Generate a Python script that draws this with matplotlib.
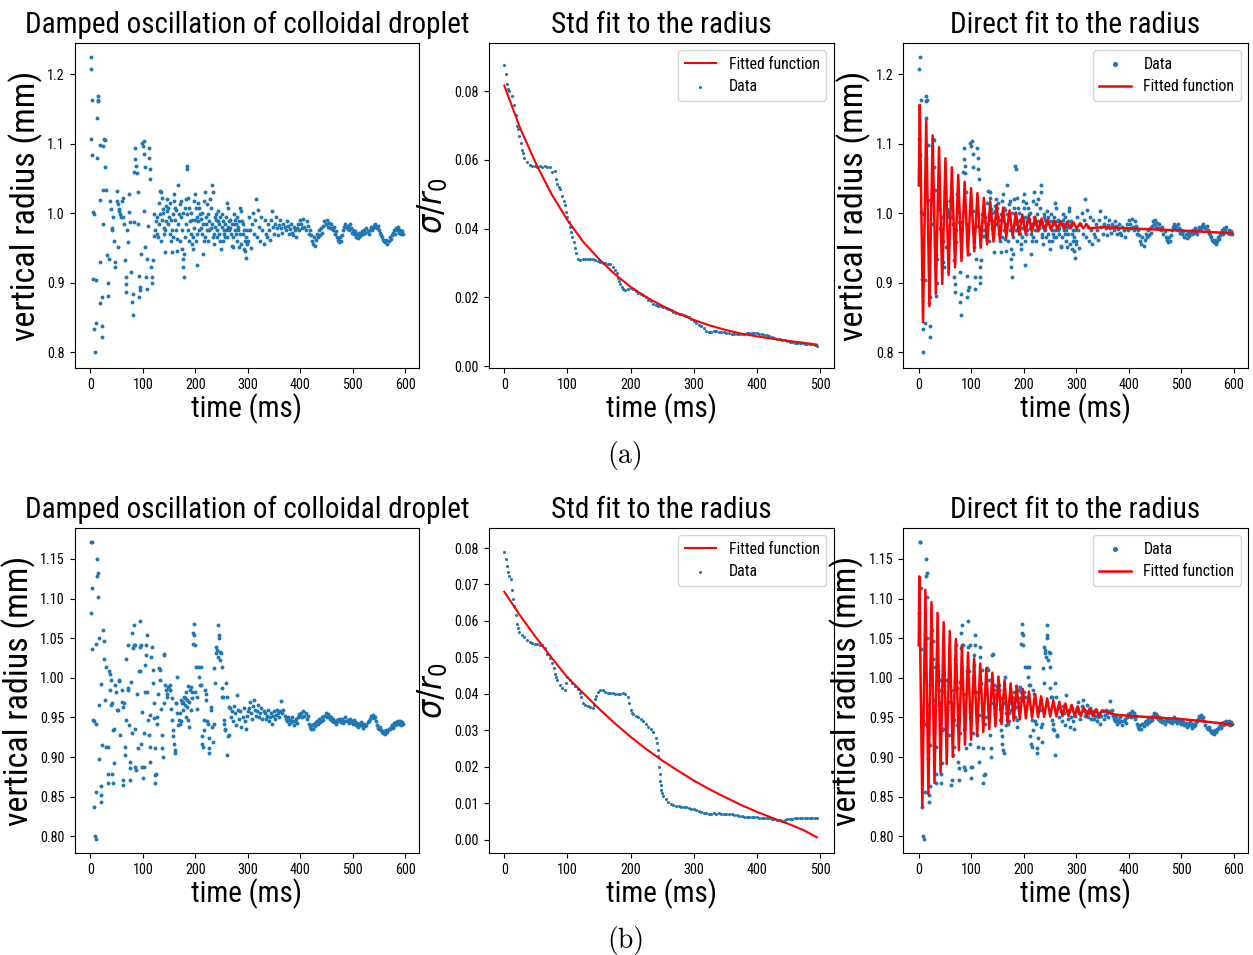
import numpy as np
import matplotlib
matplotlib.use("Agg")
import matplotlib.pyplot as plt
from matplotlib import font_manager as fm

# ------------------------------------------------------------------ data
# Row (a): vertical radius (mm) vs time (ms) -- early scattered part (t, r)
rad_a_early = [
    (1, 1.208), (2, 1.225), (4, 1.163), (1, 1.107), (3, 1.083), (5, 1.002), (8, 0.999), (6, 0.905), (11, 0.903),
    (8, 0.833), (11, 0.842), (9, 0.800), (14, 1.169), (15, 1.163), (14, 1.161), (13, 1.137), (13, 1.080), (18, 1.098),
    (18, 1.019), (19, 0.930), (19, 0.870), (22, 0.879), (22, 0.838), (22, 0.821), (25, 1.097), (27, 1.107), (29, 1.105),
    (29, 1.066), (25, 1.033), (30, 1.033), (25, 0.985), (32, 0.940), (34, 0.900), (33, 0.881), (35, 0.934), (38, 1.018),
    (39, 1.006), (41, 0.979), (42, 0.975), (44, 0.994), (46, 0.960), (47, 0.929), (48, 0.922), (50, 1.032), (51, 1.018),
    (52, 1.013), (52, 0.951), (54, 1.006), (55, 1.003), (57, 0.999), (58, 0.994), (60, 1.018), (62, 1.022), (63, 0.994),
    (65, 0.984), (67, 0.932), (68, 0.908), (69, 0.898), (69, 0.886), (70, 0.975), (71, 0.958), (73, 1.027), (74, 1.001),
    (76, 0.987), (78, 0.915), (79, 0.872), (81, 0.853), (81, 0.884), (83, 0.987), (84, 1.059), (86, 1.094), (86, 1.078),
    (88, 1.068), (89, 1.058), (90, 1.030), (91, 0.984), (92, 0.910), (92, 0.879), (94, 0.889), (95, 0.893), (96, 0.941),
    (98, 1.101), (100, 1.097), (102, 1.104), (103, 1.085), (104, 1.066), (103, 1.003), (105, 0.951), (107, 0.908),
    (108, 0.891), (109, 0.934), (110, 0.982), (111, 1.094), (112, 1.080), (113, 1.063), (114, 1.049), (116, 0.922),
    (117, 0.900), (117, 0.908), (119, 0.932), (121, 0.999), (122, 0.967), (124, 0.975), (125, 0.989), (127, 0.994),
    (128, 0.970), (129, 0.965), (130, 1.015), (132, 1.032), (133, 0.999), (135, 1.030), (136, 1.022), (138, 1.006),
    (140, 0.979), (141, 0.970), (143, 0.944), (144, 0.989), (146, 1.003), (147, 1.020), (149, 1.008), (150, 0.994),
    (152, 0.970), (154, 0.960), (156, 0.944), (157, 0.999), (159, 1.018), (160, 1.027), (162, 1.008), (163, 0.975),
    (165, 0.963), (166, 0.946), (168, 1.040), (169, 0.999), (171, 1.013), (173, 1.018), (175, 0.948), (176, 0.934),
    (176, 0.922), (178, 0.908), (179, 0.941), (181, 1.008), (182, 1.020), (184, 0.999), (184, 1.068), (185, 1.063),
    (187, 1.022), (189, 1.008), (190, 0.989), (192, 0.970), (194, 0.956), (195, 0.948), (197, 0.979), (198, 1.018),
    (200, 1.027), (201, 1.008), (203, 0.925), (203, 0.994), (204, 0.970), (206, 0.989), (208, 1.008), (209, 0.999),
    (211, 0.979), (213, 0.970), (214, 0.941), (216, 0.960), (217, 1.018), (219, 1.030), (220, 0.994), (222, 0.975),
    (223, 1.013), (225, 0.999), (227, 0.989), (229, 0.979), (230, 1.008), (232, 1.040), (233, 1.030), (235, 0.970),
    (236, 0.956), (238, 0.994), (239, 0.999), (241, 0.975), (243, 0.989), (244, 1.003), (246, 0.970), (248, 0.960),
    (249, 0.948), (251, 0.999), (252, 0.989), (254, 0.975), (255, 0.970), (257, 0.965), (258, 0.994), (260, 1.015),
    (262, 1.008), (264, 0.989), (265, 0.975), (267, 0.979), (268, 0.970), (270, 0.953), (271, 0.951), (273, 0.984),
    (274, 0.999), (276, 0.975), (278, 0.970), (279, 0.994), (281, 0.975), (283, 0.951), (284, 0.989), (286, 1.008),
    (287, 1.003), (289, 0.989), (291, 0.970), (292, 0.948), (294, 0.960), (295, 0.946), (297, 0.935), (298, 0.975),
    (131, 0.985), (134, 0.960), (137, 0.990), (139, 1.000), (142, 0.975), (145, 1.010), (148, 0.985), (151, 1.015),
    (153, 0.990), (155, 0.975), (158, 0.965), (161, 0.990), (164, 1.005), (167, 0.985), (170, 0.960), (172, 0.995),
    (174, 0.975), (177, 1.000), (180, 0.965), (183, 0.985), (186, 0.975), (188, 0.960), (191, 1.000), (193, 0.990),
    (196, 0.965), (199, 0.990), (202, 0.960), (205, 1.015), (207, 0.975), (210, 0.992), (212, 1.000), (215, 0.985),
    (218, 0.965), (221, 0.985), (224, 0.960), (226, 0.975), (228, 1.020), (231, 0.985), (234, 0.965), (237, 0.980),
    (240, 0.990), (242, 0.965), (245, 0.985), (247, 0.995), (250, 0.980), (253, 0.960), (256, 0.985), (259, 0.975),
    (261, 0.965), (263, 0.980), (266, 0.990), (269, 0.985), (272, 0.965), (275, 0.990), (277, 0.985), (280, 0.960),
    (282, 0.980), (285, 0.970), (288, 0.955), (290, 0.985), (293, 0.975), (296, 0.965), (299, 0.955)]
# Row (a): late part, one sample every 2 ms from 300 ms
rad_a_late_t = np.arange(300, 597, 2)
rad_a_late_r = [
    0.960, 0.995, 0.975, 0.950, 0.985, 1.000, 0.970, 0.990, 1.021, 0.965, 1.005, 0.980, 0.960, 0.995, 0.975, 0.955,
    0.990, 0.970, 0.965, 0.985, 0.975, 0.962, 0.990, 1.003, 0.980, 0.970, 0.985, 0.995, 0.978, 0.968, 0.983,
    0.990, 0.978, 0.972, 0.985, 0.980, 0.975, 0.988, 0.982, 0.970, 0.977, 0.985, 0.972, 0.968, 0.980, 0.975, 0.965,
    0.978, 0.984, 0.975, 0.990,
    0.985, 0.978, 0.992, 0.980, 0.975, 0.988, 0.982, 0.970, 0.976, 0.968,
    0.960, 0.955, 0.965, 0.952, 0.962,
    0.970, 0.965, 0.975, 0.968, 0.978, 0.972, 0.982,
    0.988, 0.985, 0.990, 0.980, 0.986, 0.978, 0.984,
    0.978, 0.975, 0.980, 0.970, 0.974, 0.965,
    0.962, 0.958, 0.965, 0.960, 0.968,
    0.975, 0.980, 0.985, 0.978, 0.982, 0.976, 0.984, 0.978,
    0.972, 0.976, 0.970, 0.974,
    0.966, 0.970, 0.964, 0.972, 0.967, 0.970,
    0.974, 0.970, 0.976, 0.972, 0.978, 0.974, 0.970, 0.976, 0.980, 0.975, 0.978, 0.982,
    0.984, 0.980, 0.978, 0.982, 0.975, 0.972,
    0.968, 0.965, 0.962, 0.960, 0.958, 0.962, 0.956, 0.960, 0.965, 0.963,
    0.968, 0.972, 0.975, 0.970, 0.978, 0.975, 0.980, 0.972, 0.976, 0.970, 0.974, 0.970]

# Row (a): std / r0 data, one sample every 4 ms plus extra samples on steep parts
std_a_t = np.arange(0, 497, 4)
std_a_v = [
    0.0875, 0.0820, 0.0800, 0.0785, 0.0760, 0.0700, 0.0670, 0.0630, 0.0605, 0.0595,
    0.0585, 0.0582, 0.0581, 0.0580, 0.0581, 0.0580, 0.0581, 0.0580, 0.0578, 0.0566,
    0.0568, 0.0530, 0.0515, 0.0495, 0.0470, 0.0435, 0.0405, 0.0375, 0.0345, 0.0312,
    0.0310, 0.0311, 0.0312, 0.0312, 0.0313, 0.0312, 0.0310, 0.0306, 0.0302, 0.0300,
    0.0299, 0.0298, 0.0296, 0.0290, 0.0280, 0.0258, 0.0238, 0.0225, 0.0222, 0.0226,
    0.0228, 0.0224, 0.0218, 0.0214, 0.0210, 0.0206, 0.0200, 0.0194, 0.0189, 0.0182,
    0.0178, 0.0176, 0.0174, 0.0173, 0.0170, 0.0167, 0.0163, 0.0159, 0.0156, 0.0153,
    0.0151, 0.0149, 0.0147, 0.0143, 0.0137, 0.0131, 0.0126, 0.0121, 0.0116, 0.0110,
    0.0104, 0.0099, 0.0101, 0.0102, 0.0102, 0.0101, 0.0100, 0.0099, 0.0098, 0.0096,
    0.0094, 0.0093, 0.0093, 0.0094, 0.0095, 0.0095, 0.0096, 0.0096, 0.0096, 0.0097,
    0.0096, 0.0095, 0.0093, 0.0091, 0.0090, 0.0088, 0.0085, 0.0082, 0.0079, 0.0078,
    0.0077, 0.0076, 0.0074, 0.0072, 0.0070, 0.0068, 0.0068, 0.0068, 0.0067, 0.0066,
    0.0065, 0.0064, 0.0064, 0.0062, 0.0060]
std_a_extra_t = [2, 6, 18, 22, 26, 30, 82, 86, 94, 98, 102, 106, 110, 114, 178, 182, 186]
std_a_extra_v = [0.0850, 0.0805, 0.0730, 0.0690, 0.0650, 0.0620, 0.0545, 0.0520, 0.0480, 0.0450,
                 0.0420, 0.0390, 0.0360, 0.0330, 0.0270, 0.0248, 0.0230]

# Row (a): fitted functions
fit_std_a_t = [0, 25, 50, 75, 100, 125, 150, 175, 200, 225, 250, 275, 300, 325, 350, 375, 400, 425, 450, 475, 495]
fit_std_a_v = [0.0816, 0.0693, 0.0590, 0.0500, 0.0425, 0.0362, 0.0312, 0.0268, 0.0231, 0.0201, 0.0176,
               0.0154, 0.0135, 0.0119, 0.0106, 0.0095, 0.0087, 0.0080, 0.0074, 0.0068, 0.0063]
fit_dir_a_t = [0, 2.0, 8.1, 14.2, 20.3, 26.4, 32.5, 38.6, 44.7, 50.8, 56.9, 63.0, 69.1, 75.2, 81.3, 87.4, 93.5,
               99.6, 105.7, 111.8, 117.9, 124.0, 130.1, 136.2, 142.3, 148.4, 154.5, 160.6, 166.7, 172.8, 178.9,
               185.0, 191.1, 197.2, 203.3, 209.4, 215.5, 221.6, 227.7, 233.8, 239.9, 246.0, 252.1, 258.2, 264.3,
               270.4, 276.5, 282.6, 288.7, 294.8, 300.9, 307.0, 313.1, 319.2, 325.3, 350, 400, 450, 500, 550, 597]
fit_dir_a_r = [1.040, 1.156, 0.843, 1.133, 0.866, 1.112, 0.884, 1.095, 0.898, 1.079, 0.911, 1.066, 0.922, 1.055,
               0.931, 1.045, 0.939, 1.036, 0.945, 1.029, 0.950, 1.022, 0.955, 1.017, 0.959, 1.012, 0.962, 1.008,
               0.965, 1.004, 0.967, 1.001, 0.969, 0.998, 0.971, 0.996, 0.973, 0.994, 0.974, 0.992, 0.975, 0.991,
               0.976, 0.9895, 0.9767, 0.9883, 0.9774, 0.9873, 0.9778, 0.9864, 0.9781, 0.9853, 0.9782, 0.9843,
               0.9781, 0.980, 0.978, 0.9765, 0.975, 0.973, 0.971]

# Row (b): vertical radius (mm) -- early scattered part (t, r)
rad_b_early = [
    (2, 1.171), (3, 1.171), (4, 1.113), (1, 1.082), (4, 1.036), (6, 0.947), (7, 0.837), (9, 0.800), (10, 0.797),
    (8, 0.945), (13, 1.150), (13, 1.128), (15, 1.132), (15, 1.102), (11, 1.043), (11, 0.942), (11, 0.856), (17, 0.897),
    (17, 0.966), (16, 1.050), (21, 0.992), (22, 0.915), (21, 0.863), (20, 0.852), (20, 0.843), (25, 1.060), (27, 1.047),
    (27, 1.024), (30, 1.014), (29, 0.972), (30, 0.913), (33, 0.913), (33, 0.879), (33, 0.867), (36, 1.008), (37, 1.005),
    (38, 0.984), (40, 0.997), (41, 0.968), (39, 0.966), (42, 0.879), (43, 0.867), (45, 0.892), (44, 0.934), (46, 0.936),
    (48, 0.991), (49, 0.982), (51, 0.960), (53, 0.959), (54, 0.997), (55, 0.996), (57, 0.928), (60, 0.970), (62, 0.865),
    (63, 0.871), (61, 0.984), (63, 0.963), (65, 0.968), (66, 0.903), (67, 0.913), (68, 0.947), (69, 1.024), (71, 1.041),
    (71, 0.984), (72, 0.987), (73, 0.941), (75, 0.894), (76, 0.886), (76, 0.871), (78, 0.995), (79, 0.930), (80, 1.056),
    (81, 1.037), (83, 1.066), (83, 1.041), (85, 1.041), (86, 0.936), (86, 0.888), (88, 0.884), (89, 0.980), (90, 0.911),
    (92, 1.008), (94, 1.072), (94, 1.039), (95, 1.008), (97, 1.041), (97, 0.917), (98, 0.957), (99, 0.888), (100, 0.873),
    (102, 0.888), (103, 0.930), (104, 0.982), (105, 1.016), (106, 1.029), (107, 1.041), (108, 1.054), (109, 0.982),
    (110, 0.947), (111, 0.928), (113, 0.913), (114, 0.953), (114, 0.894), (116, 1.026), (117, 1.039), (119, 0.994),
    (120, 1.010), (121, 0.968), (122, 0.949), (123, 0.911), (123, 0.867), (124, 0.877), (126, 0.879), (127, 0.942),
    (128, 0.951), (129, 0.980), (130, 1.012), (132, 1.010), (133, 0.997), (134, 0.961), (136, 0.928), (137, 0.911),
    (138, 0.900), (140, 1.029), (141, 1.030), (141, 0.968), (143, 0.991), (144, 0.984), (146, 0.976), (147, 0.980),
    (149, 0.989), (151, 0.984), (152, 0.991), (154, 0.961), (155, 0.947), (157, 0.934), (158, 0.926), (159, 0.917),
    (161, 0.909), (162, 0.905), (163, 0.968), (164, 0.968), (165, 1.001), (167, 0.940), (169, 0.947), (170, 0.942),
    (171, 0.955), (173, 0.972), (175, 0.968), (176, 0.959), (178, 0.976), (180, 0.966), (181, 0.974), (182, 0.982),
    (184, 0.972), (185, 0.963), (187, 0.947), (188, 0.938), (190, 0.984), (192, 0.989), (194, 0.982), (196, 1.056),
    (197, 1.068), (198, 1.054), (195, 1.043), (199, 1.041), (200, 0.982), (202, 1.014), (203, 0.976), (204, 0.961),
    (206, 1.014), (208, 1.001), (209, 0.991), (210, 1.014), (211, 0.991), (212, 0.926), (213, 0.917), (215, 0.913),
    (216, 0.947), (217, 0.934), (218, 0.984), (220, 0.980), (221, 0.972), (222, 0.945), (224, 0.942), (226, 0.911),
    (226, 0.905), (227, 0.924), (229, 0.963), (230, 0.959), (232, 0.938), (234, 0.919), (235, 0.942), (236, 1.012),
    (238, 0.993), (239, 1.039), (240, 1.031), (241, 1.035), (243, 1.026), (244, 1.066), (245, 1.054), (245, 1.050),
    (247, 1.022), (248, 1.033), (249, 1.031), (250, 1.014), (250, 0.987), (251, 0.976), (253, 0.976), (254, 0.947),
    (255, 0.942), (256, 0.936), (257, 0.934), (259, 0.993), (260, 0.903), (261, 0.976), (263, 0.926), (264, 0.928),
    (265, 0.963), (152, 0.985), (156, 0.975), (166, 0.955), (172, 0.945), (177, 0.970), (183, 0.950), (186, 0.990),
    (189, 0.970), (191, 0.960), (193, 0.975)]
rad_b_late_t = np.arange(266, 597, 2)
rad_b_late_r = [
    0.962, 0.950, 0.958, 0.945, 0.965, 0.955, 0.940, 0.978, 0.960, 0.948, 0.958, 0.938, 0.950, 0.962, 0.945, 0.935,
    0.952, 0.958,
    0.962, 0.970, 0.955, 0.948, 0.965, 0.972, 0.960, 0.952, 0.958, 0.966, 0.950, 0.955, 0.962, 0.948, 0.958,
    0.955, 0.948, 0.952, 0.960, 0.945, 0.950, 0.956, 0.942, 0.952, 0.958, 0.948, 0.953, 0.960, 0.955, 0.950,
    0.958, 0.971, 0.955, 0.960, 0.952,
    0.948, 0.945, 0.950, 0.942, 0.947, 0.944, 0.950, 0.946, 0.940, 0.945, 0.948, 0.943, 0.950, 0.954, 0.952,
    0.956, 0.950, 0.958, 0.952, 0.955, 0.948, 0.952,
    0.942, 0.938, 0.935, 0.940, 0.936, 0.942, 0.939, 0.944,
    0.945, 0.942, 0.948, 0.944, 0.946, 0.950, 0.947,
    0.952, 0.956, 0.950, 0.954, 0.952, 0.948, 0.950, 0.946,
    0.948, 0.944, 0.946, 0.942, 0.947, 0.945, 0.948,
    0.946, 0.944, 0.948, 0.943, 0.946, 0.950, 0.945, 0.947, 0.943, 0.948, 0.944, 0.946, 0.942, 0.947, 0.944,
    0.940, 0.943, 0.938, 0.942, 0.940, 0.944,
    0.940, 0.937, 0.942, 0.939, 0.941, 0.944, 0.946,
    0.948, 0.952, 0.950, 0.953, 0.949, 0.951, 0.946, 0.940,
    0.937, 0.935, 0.938, 0.934, 0.932,
    0.930, 0.933, 0.929, 0.934, 0.932, 0.936, 0.935,
    0.938, 0.941, 0.937, 0.943, 0.940, 0.944, 0.942,
    0.945, 0.942, 0.946, 0.940, 0.944, 0.942]

std_b_t = np.arange(0, 497, 4)
std_b_v = [
    0.0790, 0.0750, 0.0722, 0.0685, 0.0640, 0.0592, 0.0570, 0.0562, 0.0555, 0.0548,
    0.0542, 0.0540, 0.0537, 0.0536, 0.0535, 0.0535, 0.0525, 0.0510, 0.0497, 0.0485,
    0.0455, 0.0438, 0.0425, 0.0415, 0.0410, 0.0445, 0.0438, 0.0430, 0.0422, 0.0412,
    0.0402, 0.0375, 0.0368, 0.0366, 0.0365, 0.0362, 0.0385, 0.0405, 0.0410, 0.0410,
    0.0405, 0.0403, 0.0402, 0.0401, 0.0400, 0.0400, 0.0400, 0.0401, 0.0400, 0.0390,
    0.0355, 0.0345, 0.0340, 0.0336, 0.0332, 0.0325, 0.0318, 0.0310, 0.0302, 0.0295,
    0.0280, 0.0230, 0.0150, 0.0120, 0.0110, 0.0102, 0.0098, 0.0095, 0.0093, 0.0091,
    0.0090, 0.0089, 0.0088, 0.0087, 0.0085, 0.0083, 0.0081, 0.0079, 0.0076, 0.0074,
    0.0072, 0.0071, 0.0071, 0.0072, 0.0071, 0.0072, 0.0071, 0.0071, 0.0071, 0.0070,
    0.0070, 0.0068, 0.0066, 0.0065, 0.0064, 0.0063, 0.0062, 0.0062, 0.0061, 0.0061,
    0.0061, 0.0060, 0.0060, 0.0060, 0.0059, 0.0058, 0.0057, 0.0055, 0.0054, 0.0053,
    0.0052, 0.0053, 0.0055, 0.0056, 0.0057, 0.0058, 0.0059, 0.0060, 0.0060, 0.0060,
    0.0060, 0.0060, 0.0060, 0.0060, 0.0060]
std_b_extra_t = [2, 6, 10, 14, 18, 22, 78, 82, 98, 122, 142, 146, 198, 202, 242, 243, 245, 246, 247, 249, 250]
std_b_extra_v = [0.0770, 0.0735, 0.0715, 0.0660, 0.0615, 0.0580, 0.0470, 0.0445, 0.0430, 0.0390, 0.0370,
                 0.0395, 0.0375, 0.0348, 0.0265, 0.0245, 0.0200, 0.0180, 0.0160, 0.0135, 0.0128]

fit_std_b_t = [0, 25, 50, 75, 100, 125, 150, 175, 200, 225, 250, 275, 300, 325, 350, 375, 400, 425, 450, 475, 495]
fit_std_b_v = [0.0680, 0.0615, 0.0555, 0.0499, 0.0445, 0.0402, 0.0359, 0.0319, 0.0282, 0.0248, 0.0217,
               0.0189, 0.0162, 0.0138, 0.0116, 0.0095, 0.0076, 0.0059, 0.0043, 0.0025, 0.0006]
fit_dir_b_t = [0, 1.0, 6.8, 12.6, 18.4, 24.2, 30.0, 35.8, 41.6, 47.4, 53.2, 59.0, 64.8, 70.6, 76.4, 82.2, 88.0,
               93.8, 99.6, 105.4, 111.2, 117.0, 122.8, 128.6, 134.4, 140.2, 146.0, 151.8, 157.6, 163.4, 169.2,
               175.0, 180.8, 186.6, 192.4, 198.2, 204.0, 209.8, 215.6, 221.4, 227.2, 233.0, 238.8, 244.6, 250.4,
               256.2, 262.0, 267.8, 273.6, 279.4, 285.2, 291.0, 296.8, 302.6, 308.4, 314.2, 320.0, 325.8, 331.6,
               337.4, 343.2, 349.0, 375, 400, 450, 500, 550, 597]
fit_dir_b_r = [1.041, 1.128, 0.837, 1.111, 0.853, 1.0955, 0.8674, 1.082, 0.8802, 1.0701, 0.8912, 1.059, 0.9004,
               1.0489, 0.9086, 1.0399, 0.9157, 1.0319, 0.9219, 1.0246, 0.9271, 1.0179, 0.9316, 1.0119, 0.9353,
               1.0065, 0.9387, 1.0016, 0.9415, 0.9971, 0.9439, 0.9930, 0.9459, 0.9894, 0.9476, 0.9859, 0.9489,
               0.9827, 0.9497, 0.9797, 0.9504, 0.9768, 0.9508, 0.9741, 0.9511, 0.9717, 0.9514, 0.9697, 0.9516,
               0.9676, 0.9517, 0.9658, 0.9516, 0.9641, 0.9516, 0.9627, 0.9516, 0.9614, 0.9515, 0.9602, 0.9513,
               0.9590, 0.9535, 0.952, 0.950, 0.948, 0.9445, 0.941]

titles = ["Damped oscillation of colloidal droplet", "Std fit to the radius", "Direct fit to the radius"]
captions = ["(a)", "(b)"]
rad_ticks_a = [0.8, 0.9, 1.0, 1.1, 1.2]
rad_ticks_b = [0.80, 0.85, 0.90, 0.95, 1.00, 1.05, 1.10, 1.15]
std_ticks_a = [0.00, 0.02, 0.04, 0.06, 0.08]
std_ticks_b = [0.00, 0.01, 0.02, 0.03, 0.04, 0.05, 0.06, 0.07, 0.08]
time_ticks_rad = [0, 100, 200, 300, 400, 500, 600]
time_ticks_std = [0, 100, 200, 300, 400, 500]

# ------------------------------------------------------------------ fonts
def pick_font():
    prefs = [("Liberation Sans Narrow", None, 0.74), ("Liberation Sans", "condensed", 0.74),
             ("Roboto Condensed", None, 0.80), ("Roboto", "condensed", 0.80),
             ("Noto Sans", "condensed", 0.80), ("Open Sans", "condensed", 0.80),
             ("DejaVu Sans", "condensed", 0.90), ("Noto Sans", "semi-condensed", 0.88)]
    ents = fm.fontManager.ttflist
    for name, stretch, wf in prefs:
        for e in ents:
            if e.name != name or e.style != "normal":
                continue
            if e.weight not in (400, "normal", "regular", "book"):
                continue
            if stretch is None or e.stretch == stretch:
                return name, e.stretch, wf
    return "DejaVu Sans", "normal", 1.0

FONT, STRETCH, WF = pick_font()
plt.rcParams["font.family"] = [FONT, "DejaVu Sans"]
plt.rcParams["font.stretch"] = STRETCH
plt.rcParams["mathtext.fontset"] = "dejavusans"

def fsize(h, w):
    return min(h, 1.04 * w / WF)

FS_TITLE = fsize(21.0, 18.0)
FS_XLAB = fsize(21.0, 17.4)
FS_YLAB = min(20.4 / WF, 24.5)
FS_TICK = fsize(10.4, 7.8)
FS_LEG = fsize(11.5, 8.8)

BLUE = "#1f77b4"

# ------------------------------------------------------------------ figure
W, H = 1253, 955
fig = plt.figure(figsize=(W / 100, H / 100), dpi=100)


def ax_at(x0, y0, x1, y1):
    return fig.add_axes([x0 / W, 1 - y1 / H, (x1 - x0) / W, (y1 - y0) / H])


cols = [(74.5, 419.5), (488.5, 833.5), (903.0, 1248.0)]
rows = [(43.0, 368.0), (528.0, 853.0)]

rows_data = [
    dict(early=rad_a_early, lt=rad_a_late_t, lr=rad_a_late_r, st=std_a_t, sv=std_a_v,
         sxt=std_a_extra_t, sxv=std_a_extra_v, fst=fit_std_a_t, fsv=fit_std_a_v,
         fdt=fit_dir_a_t, fdr=fit_dir_a_r, rticks=rad_ticks_a, rfmt="%.1f", rylim=(0.777, 1.245),
         sticks=std_ticks_a, sylim=(-0.0005, 0.094)),
    dict(early=rad_b_early, lt=rad_b_late_t, lr=rad_b_late_r, st=std_b_t, sv=std_b_v,
         sxt=std_b_extra_t, sxv=std_b_extra_v, fst=fit_std_b_t, fsv=fit_std_b_v,
         fdt=fit_dir_b_t, fdr=fit_dir_b_r, rticks=rad_ticks_b, rfmt="%.2f", rylim=(0.779, 1.189),
         sticks=std_ticks_b, sylim=(-0.0037, 0.0855)),
]


def style(ax, title, yl, xticks, yticks, yfmt):
    ax.set_title(title, fontsize=FS_TITLE, pad=7)
    ax.set_xlabel("time (ms)", fontsize=FS_XLAB, labelpad=1)
    ax.set_ylabel(yl, fontsize=FS_YLAB, labelpad=3)
    ax.set_xticks(xticks)
    ax.set_yticks(yticks)
    ax.set_yticklabels([yfmt % v for v in yticks])
    ax.tick_params(labelsize=FS_TICK)


for ri, d in enumerate(rows_data):
    y0, y1 = rows[ri]
    et = [p[0] for p in d["early"]]
    er = [p[1] for p in d["early"]]
    rt = np.concatenate([et, d["lt"]])
    rr = np.concatenate([er, d["lr"]])

    # left: raw data
    ax = ax_at(cols[0][0], y0, cols[0][1], y1)
    ax.scatter(rt, rr, s=8, color=BLUE, linewidths=0)
    ax.set_xlim(-30, 627)
    ax.set_ylim(*d["rylim"])
    style(ax, titles[0], "vertical radius (mm)", time_ticks_rad, d["rticks"], d["rfmt"])

    # middle: std fit
    ax = ax_at(cols[1][0], y0, cols[1][1], y1)
    ax.plot(d["fst"], d["fsv"], color="red", lw=1.5, label="Fitted function")
    st = np.concatenate([d["st"], d["sxt"]])
    sv = np.concatenate([d["sv"], d["sxv"]])
    ax.scatter(st, sv, s=5, color=BLUE, linewidths=0, label="Data")
    ax.set_xlim(-25, 521.5)
    ax.set_ylim(*d["sylim"])
    style(ax, titles[1], r"$\sigma/r_0$", time_ticks_std, d["sticks"], "%.2f")
    ax.legend(loc="upper right", fontsize=FS_LEG, borderaxespad=0.45)

    # right: direct fit
    ax = ax_at(cols[2][0], y0, cols[2][1], y1)
    ax.scatter(rt, rr, s=8, color=BLUE, linewidths=0, label="Data")
    ax.plot(d["fdt"], d["fdr"], color="red", lw=1.8, label="Fitted function")
    ax.set_xlim(-30, 627)
    ax.set_ylim(*d["rylim"])
    style(ax, titles[2], "vertical radius (mm)", time_ticks_rad, d["rticks"], d["rfmt"])
    ax.legend(loc="upper right", fontsize=FS_LEG, borderaxespad=0.45, markerscale=1.3)

fig.text(625.5 / W, 1 - 455 / H, captions[0], ha="center", va="center", fontsize=20, family="cmr10")
fig.text(625.5 / W, 1 - 940 / H, captions[1], ha="center", va="center", fontsize=20, family="cmr10")

fig.savefig("out.png", dpi=100)
